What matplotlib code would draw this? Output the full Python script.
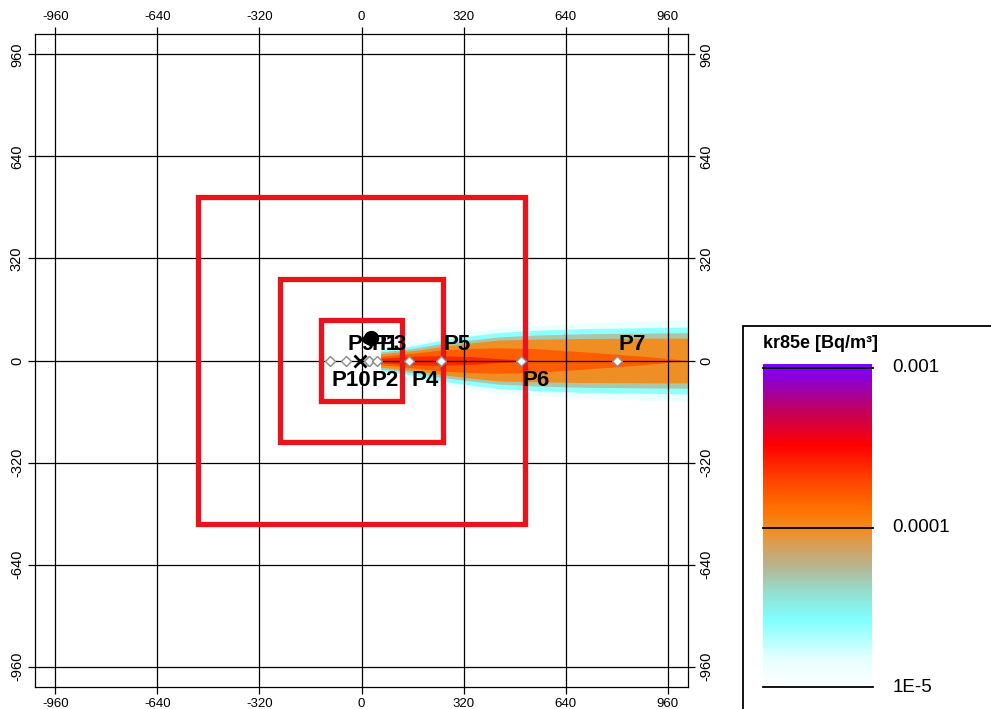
import numpy as np
import matplotlib
matplotlib.use('Agg')
import matplotlib.pyplot as plt
from matplotlib.colors import LinearSegmentedColormap
from matplotlib.patches import Rectangle
from matplotlib import font_manager

names = {f.name for f in font_manager.fontManager.ttflist}
base_font = 'Liberation Sans' if 'Liberation Sans' in names else 'DejaVu Sans'
narrow_font = 'Liberation Sans Narrow' if 'Liberation Sans Narrow' in names else base_font
plt.rcParams['font.family'] = [base_font, 'DejaVu Sans']

# ---------------- data ----------------
tick_values = [-960, -640, -320, 0, 320, 640, 960]
square_half_sizes = [512, 256, 128]

point_names = ['P10', 'P9', 'P1', 'P2', 'P3', 'P4', 'P5', 'P6', 'P7']
point_x = [-100, -50, 25, 25, 50, 150, 250, 500, 800]
point_y = [0, 0, 0, 0, 0, 0, 0, 0, 0]
label_side = ['below', 'above', 'above', 'below', 'above', 'below', 'above', 'below', 'above']

source_x = [-5]
source_y = [0]
stack_x = [30]
stack_y = [72]

# plume: downwind stations and half-widths (m) of each concentration band
plume_x = [60, 120, 180, 250, 350, 430, 550, 700, 900, 1024]
band_levels = [1.4e-5, 2.5e-5, 5e-5, 1e-4, 1.6e-4, 2.5e-4]
band_halfwidths = [
    [40, 48, 58, 76, 92, 103, 110, 117, 125, 128],
    [33, 40, 49, 64, 78, 88, 95, 100, 103, 105],
    [27, 33, 41, 53, 65, 74, 80, 84, 86, 87],
    [21, 27, 33, 44, 56, 64, 67, 69, 70, 70],
    [13, 19, 25, 33, 38, 40, 37, 27, 12, 0],
    [7, 11, 14, 15, 12, 6, 0, 0, 0, 0],
]

legend_ticks = [1e-3, 1e-4, 1e-5]
legend_tick_labels = ['0.001', '0.0001', '1E-5']
legend_title = 'kr85e [Bq/m³]'

# ---------------- colormap (log10 from -5 to -3) ----------------
cmap = LinearSegmentedColormap.from_list('kr', [
    (0.00, '#ffffff'),
    (0.085, '#e6ffff'),
    (0.21, '#80ffff'),
    (0.29, '#92e2d2'),
    (0.38, '#b8b490'),
    (0.46, '#e09a48'),
    (0.50, '#f48c1c'),
    (0.56, '#ff7000'),
    (0.65, '#ff4400'),
    (0.76, '#ff0000'),
    (0.87, '#c00060'),
    (0.96, '#9000c8'),
    (1.00, '#7f00ff'),
])

def lev2frac(v):
    return (np.log10(v) + 5) / 2.0

W, H = 991, 709
fig = plt.figure(figsize=(W / 100, H / 100), dpi=100)
ax = fig.add_axes([35 / W, (H - 687) / H, 653 / W, 653 / H])
ax.set_xlim(-1024, 1024)
ax.set_ylim(-1024, 1024)

# plume bands
px = np.array(plume_x, dtype=float)
for lev, hw in zip(band_levels, band_halfwidths):
    hw = np.array(hw, dtype=float)
    ax.fill_between(px, -hw, hw, where=hw > 0, interpolate=True,
                    color=cmap(lev2frac(lev)), lw=0, zorder=1, alpha=0.95)

# grid and ticks
ax.set_xticks(tick_values)
ax.set_yticks(tick_values)
ax.set_xticklabels([str(v) for v in tick_values])
ax.set_yticklabels([str(v) for v in tick_values])
ax.set_axisbelow(False)
ax.grid(True, color='black', lw=0.9, zorder=2)
ax.tick_params(direction='out', length=5, width=0.9, top=True, right=True,
               labeltop=True, labelright=True, labelsize=9.5, pad=3, colors='black')
ax.tick_params(axis='y', labelrotation=90)
for t in ax.yaxis.get_major_ticks():
    for lab in (t.label1, t.label2):
        lab.set_va('center')
        lab.set_fontfamily(narrow_font)
        lab.set_fontsize(10.5)
for s in ax.spines.values():
    s.set_linewidth(0.9)
    s.set_color('black')

# red squares
for s in square_half_sizes:
    ax.add_patch(Rectangle((-s, -s), 2 * s, 2 * s, fill=False,
                           ec='#e8141c', lw=3.8, zorder=3))

# points
ax.plot(point_x, point_y, 'D', ms=5.5, mfc='white', mec='#8c8c8c', mew=1, zorder=4, ls='none')
ax.plot(source_x, source_y, 'x', ms=8, mew=2, color='black', zorder=4, ls='none')
ax.plot(stack_x, stack_y, 'o', ms=10, color='black', zorder=4, ls='none')

for name, x, y, side in zip(point_names, point_x, point_y, label_side):
    if side == 'above':
        ax.annotate(name, (x, y), xytext=(2, 10), textcoords='offset pixels',
                    ha='left', va='baseline', fontsize=16, fontweight='bold', zorder=5)
    else:
        ax.annotate(name, (x, y), xytext=(2, -10), textcoords='offset pixels',
                    ha='left', va='top', fontsize=16, fontweight='bold', zorder=5)

# legend box
fig.patches.append(Rectangle((743 / W, -0.05), 1.0, (H - 326) / H + 0.05,
                             transform=fig.transFigure, fill=False, ec='black', lw=1.3))
fig.text(763 / W, (H - 348) / H, legend_title, fontsize=13, fontweight='bold',
         ha='left', va='baseline')

top_log = -5 + 2 * (687 - 364) / (687 - 368)
cax = fig.add_axes([763 / W, (H - 687) / H, (872 - 763) / W, (687 - 364) / H])
grad = np.linspace(-5, top_log, 400).reshape(-1, 1)
cax.imshow((grad + 5) / 2.0, aspect='auto', cmap=cmap, vmin=0, vmax=1,
           origin='lower', extent=[0, 1, -5, top_log], interpolation='bilinear')
cax.set_xlim(0, 1)
cax.set_ylim(-5, top_log)
cax.axis('off')
for v, lab in zip(legend_ticks, legend_tick_labels):
    lv = np.log10(v)
    cax.plot([0, 1.01], [lv, lv], color='black', lw=1.3, clip_on=False)
    cax.text(1.19, lv, lab, transform=cax.get_yaxis_transform(), fontsize=13.5,
             ha='left', va='center')

fig.savefig('out.png', dpi=100)
